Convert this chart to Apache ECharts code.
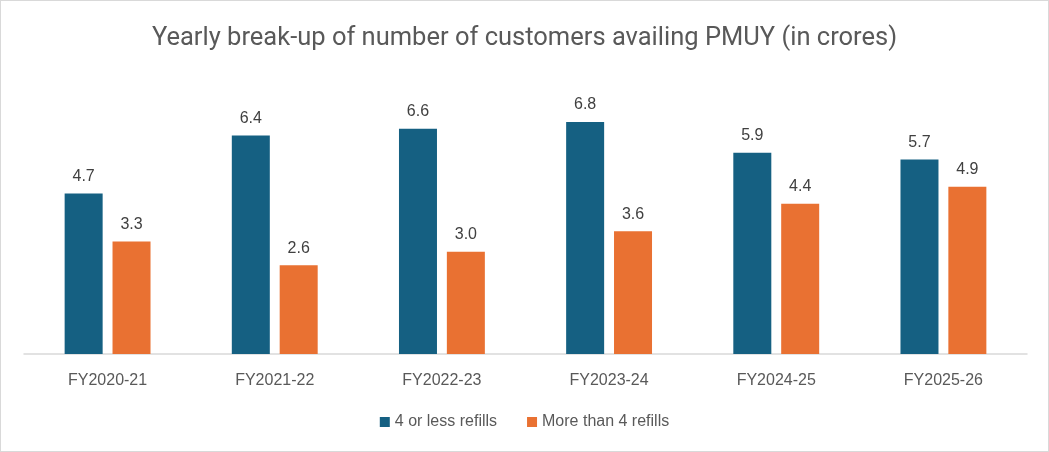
<!DOCTYPE html>
<html>
<head>
<meta charset="utf-8">
<script src="https://cdn.jsdelivr.net/npm/echarts@6/dist/echarts.min.js"></script>
<style>
  html, body { margin: 0; padding: 0; background: #fff; }
  #app { width: 1047px; height: 450px; border: 1px solid #d9d9d9; }
</style>
</head>
<body>
<div id="app"></div>
<script>
var years = ['FY2020-21', 'FY2021-22', 'FY2022-23', 'FY2023-24', 'FY2024-25', 'FY2025-26'];
var lessRefills = [4.7, 6.4, 6.6, 6.8, 5.9, 5.7];
var moreRefills = [3.3, 2.6, 3.0, 3.6, 4.4, 4.9];

var myChart = echarts.init(document.getElementById('app'));
var labelStyle = {
    show: true,
    position: 'top',
    distance: 9,
    color: '#404040',
    fontSize: 16,
    fontFamily: 'Liberation Sans',
    formatter: function (p) { return p.value.toFixed(1); }
};
var option = {
    animation: false,
    title: {
        text: 'Yearly break-up of number of customers availing PMUY (in crores)',
        left: 'center',
        top: 20,
        textStyle: {
            color: '#595959',
            fontSize: 25.5,
            fontWeight: 'normal',
            fontFamily: 'Roboto, sans-serif'
        }
    },
    legend: {
        bottom: 16,
        itemWidth: 10,
        itemHeight: 10,
        itemGap: 30,
        icon: 'rect',
        textStyle: { color: '#595959', fontSize: 16, fontFamily: 'Liberation Sans' },
        data: ['4 or less refills', 'More than 4 refills']
    },
    grid: { left: 23, right: 21, top: 80, bottom: 97 },
    xAxis: {
        type: 'category',
        data: years,
        axisLine: { lineStyle: { color: '#d9d9d9', width: 1.5 } },
        axisTick: { show: false },
        axisLabel: { color: '#595959', fontSize: 16, margin: 19, fontFamily: 'Liberation Sans' }
    },
    yAxis: {
        type: 'value',
        min: 0,
        max: 8,
        show: false,
        splitLine: { show: false }
    },
    series: [
        {
            name: '4 or less refills',
            type: 'bar',
            data: lessRefills,
            barWidth: 38,
            barGap: '26%',
            itemStyle: { color: '#156082' },
            label: labelStyle
        },
        {
            name: 'More than 4 refills',
            type: 'bar',
            data: moreRefills,
            barWidth: 38,
            itemStyle: { color: '#E97132' },
            label: labelStyle
        }
    ]
};
myChart.setOption(option);
</script>
</body>
</html>
